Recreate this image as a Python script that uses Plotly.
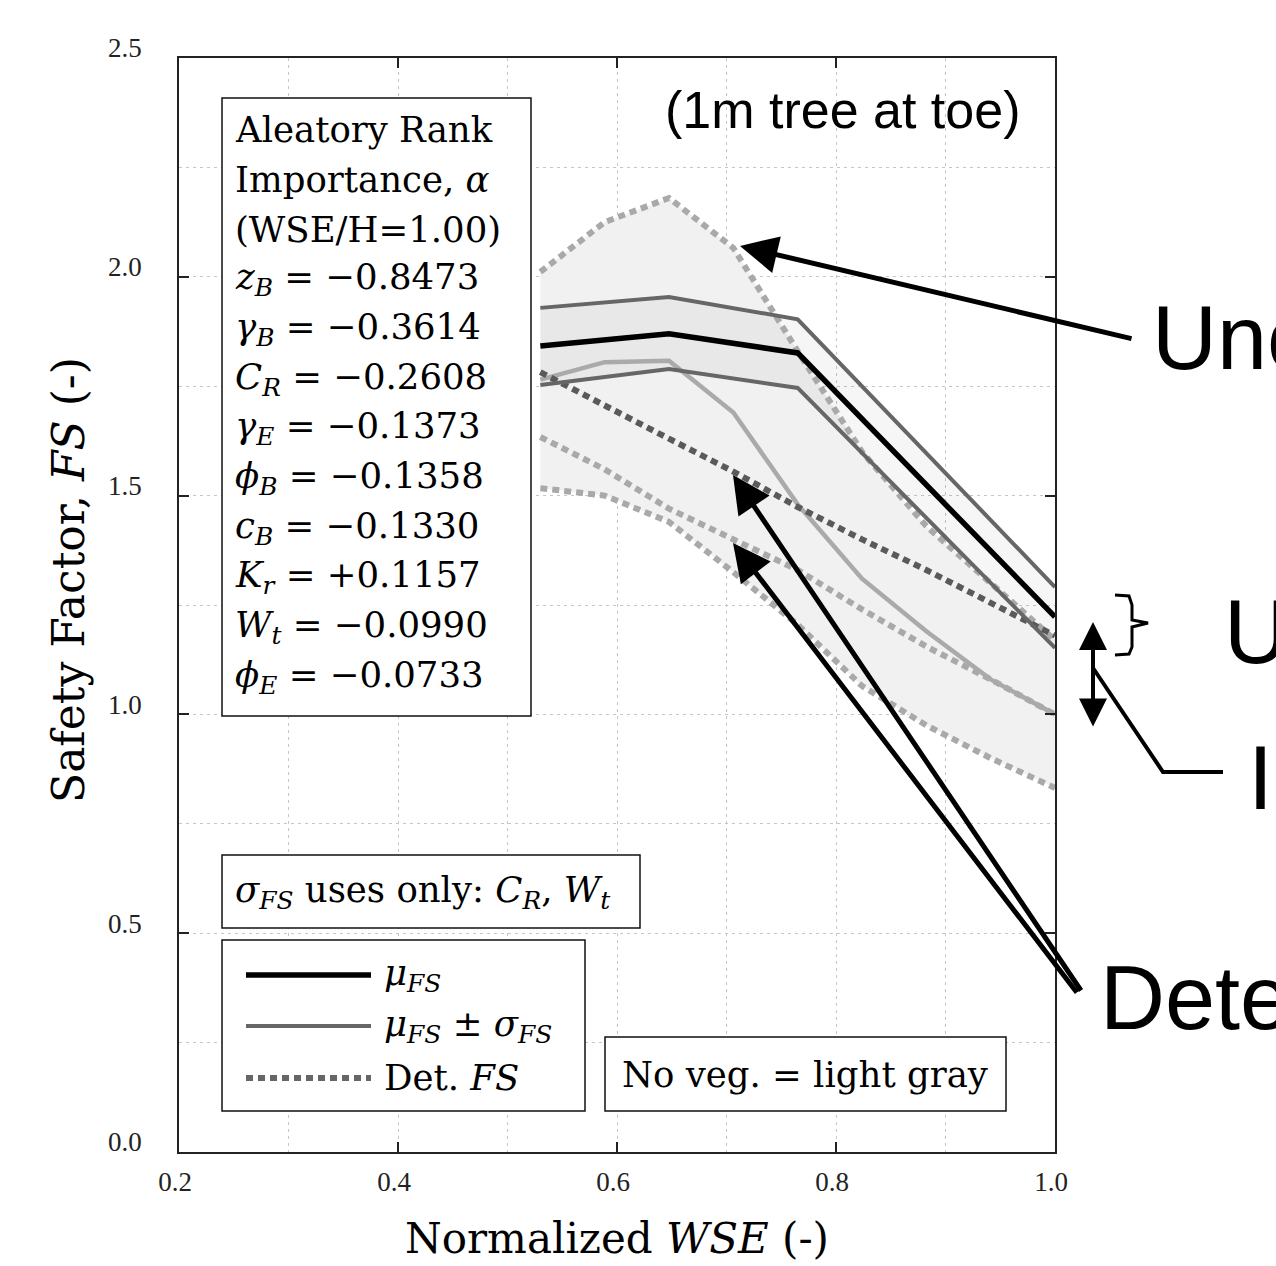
import plotly.graph_objects as go

# ---------------- data ----------------
x_veg = [0.53, 0.6475, 0.765, 0.8825, 1.0]
fs_mean = [1.842, 1.870, 1.826, 1.524, 1.223]
fs_upper = [1.929, 1.954, 1.903, 1.597, 1.291]
fs_lower = [1.753, 1.789, 1.746, 1.449, 1.152]

x_fine = [0.53, 0.58875, 0.6475, 0.70625, 0.765, 0.82375, 0.8825, 0.94125, 1.0]
det_veg = [1.782, 1.705, 1.630, 1.555, 1.474, 1.400, 1.330, 1.255, 1.180]
nov_mean = [1.765, 1.805, 1.808, 1.690, 1.480, 1.310, 1.190, 1.080, 1.000]
nov_upper = [2.011, 2.125, 2.180, 2.066, 1.830, 1.600, 1.430, 1.300, 1.170]
nov_mid = [1.634, 1.560, 1.470, 1.400, 1.330, 1.240, 1.155, 1.080, 1.000]
nov_low = [1.517, 1.500, 1.440, 1.325, 1.205, 1.065, 0.975, 0.900, 0.832]

x_ticks = [0.2, 0.4, 0.6, 0.8, 1.0]
y_ticks = [0.0, 0.5, 1.0, 1.5, 2.0, 2.5]

box_lines = [
    "Aleatory Rank",
    "Importance, <i>α</i>",
    "(WSE/H=1.00)",
    "<i>z</i><sub><i>B</i></sub> = −0.8473",
    "<i>γ</i><sub><i>B</i></sub> = −0.3614",
    "<i>C</i><sub><i>R</i></sub> = −0.2608",
    "<i>γ</i><sub><i>E</i></sub> = −0.1373",
    "<i>ϕ</i><sub><i>B</i></sub> = −0.1358",
    "<i>c</i><sub><i>B</i></sub> = −0.1330",
    "<i>K</i><sub><i>r</i></sub> = +0.1157",
    "<i>W</i><sub><i>t</i></sub> = −0.0990",
    "<i>ϕ</i><sub><i>E</i></sub> = −0.0733",
]

# ---------------- geometry ----------------
W, H = 1276, 1266
L, R, T, B = 179, 221, 58, 114
PW, PH = W - L - R, H - T - B


def px(x):
    return (x - L) / PW


def py(y):
    return (H - B - y) / PH


TICKFONT = "Liberation Serif, Times New Roman, serif"
SERIF = "DejaVu Serif, serif"
SANS = "Liberation Sans, Arial, sans-serif"
DOT = "7px,5px"

fig = go.Figure()

# light gray (no vegetation) envelope
fig.add_trace(go.Scatter(x=x_fine + x_fine[::-1], y=nov_upper + nov_low[::-1],
                         fill="toself", fillcolor="#f1f1f1", line=dict(width=0),
                         mode="lines", hoverinfo="skip"))
# mu +/- sigma band
fig.add_trace(go.Scatter(x=x_veg + x_veg[::-1], y=fs_upper + fs_lower[::-1],
                         fill="toself", fillcolor="rgba(0,0,0,0.035)", line=dict(width=0),
                         mode="lines", hoverinfo="skip"))

for ys in (nov_upper, nov_mid, nov_low):
    fig.add_trace(go.Scatter(x=x_fine, y=ys, mode="lines",
                             line=dict(color="#a9a9a9", width=6, dash=DOT)))
fig.add_trace(go.Scatter(x=x_fine, y=nov_mean, mode="lines",
                         line=dict(color="#aaaaaa", width=4.5)))
fig.add_trace(go.Scatter(x=x_fine, y=det_veg, mode="lines",
                         line=dict(color="#5a5a5a", width=6, dash=DOT)))
for ys in (fs_upper, fs_lower):
    fig.add_trace(go.Scatter(x=x_veg, y=ys, mode="lines",
                             line=dict(color="#666666", width=4)))
fig.add_trace(go.Scatter(x=x_veg, y=fs_mean, mode="lines",
                         line=dict(color="#000000", width=5.5)))

grid = dict(gridcolor="#c6c6c6", gridwidth=1, griddash="3px,4px")
fig.update_xaxes(range=[0.2, 1.0], tickvals=x_ticks, ticktext=[f"{v:.1f}" for v in x_ticks],
                 ticks="inside", ticklen=10, tickcolor="#222", tickwidth=1.5,
                 showline=True, linecolor="#222", linewidth=1.5, mirror="ticks",
                 showgrid=True, zeroline=False, **grid,
                 minor=dict(dtick=0.1, showgrid=True, **grid),
                 tickfont=dict(family=TICKFONT, size=27, color="#222"),
                 ticklabelstandoff=5, ticklabelshift=-4)
fig.update_yaxes(range=[0.0, 2.5], tickvals=y_ticks, ticktext=[f"{v:.1f}" for v in y_ticks],
                 ticks="inside", ticklen=10, tickcolor="#222", tickwidth=1.5,
                 showline=True, linecolor="#222", linewidth=1.5, mirror="ticks",
                 showgrid=True, zeroline=False, **grid,
                 minor=dict(dtick=0.25, showgrid=True, **grid),
                 tickfont=dict(family=TICKFONT, size=27, color="#222"),
                 ticklabelstandoff=30, ticklabelshift=-10)

shapes = []
ann = []


def box(x0, y0, x1, y1):
    shapes.append(dict(type="rect", xref="paper", yref="paper",
                       x0=px(x0), x1=px(x1), y0=py(y1), y1=py(y0),
                       line=dict(color="#111", width=1.5), fillcolor="white", layer="above"))


def text(x, y, s, size=35.5, family=SERIF, xanchor="left", angle=0):
    ann.append(dict(xref="paper", yref="paper", x=px(x), y=py(y), text=s, showarrow=False,
                    xanchor=xanchor, yanchor="middle", textangle=angle,
                    font=dict(family=family, size=size, color="black")))


# Aleatory box
box(222, 98, 531, 716)
for i, s in enumerate(box_lines):
    text(233, 130 + i * 49.7, s)

# sigma box
box(222, 855, 640, 928)
text(233, 892, "<i>σ</i><sub><i>FS</i></sub> uses only: <i>C</i><sub><i>R</i></sub>, <i>W</i><sub><i>t</i></sub>")

# legend box
box(222, 940, 585, 1111)
shapes.append(dict(type="line", xref="paper", yref="paper", x0=px(246), x1=px(371), y0=py(975), y1=py(975),
                   line=dict(color="black", width=5.5)))
shapes.append(dict(type="line", xref="paper", yref="paper", x0=px(246), x1=px(371), y0=py(1026), y1=py(1026),
                   line=dict(color="#666666", width=4)))
shapes.append(dict(type="line", xref="paper", yref="paper", x0=px(246), x1=px(371), y0=py(1078), y1=py(1078),
                   line=dict(color="#666666", width=6, dash=DOT)))
text(382, 975, "<i>μ</i><sub><i>FS</i></sub>")
text(382, 1026, "<i>μ</i><sub><i>FS</i></sub> ± <i>σ</i><sub><i>FS</i></sub>")
text(382, 1077, "Det. <i>FS</i>")

# no veg box
box(605, 1037, 1006, 1111)
text(805, 1074, "No veg. = light gray", xanchor="center")

# title inside
text(842, 110, "(1m tree at toe)", size=52, family=SANS, xanchor="center")

# axis titles
text(617, 1238, "Normalized <i>WSE</i> (-)", size=42, xanchor="center")
ann.append(dict(xref="paper", yref="paper", x=px(68), y=py(580), text="Safety Factor, <i>FS</i> (-)",
                showarrow=False, textangle=-90, xanchor="center", yanchor="middle",
                font=dict(family=SERIF, size=44, color="black")))

# right-side callout texts (clipped by the page edge, as in the reference)
text(1150, 338, "Uncertainty", size=90, family=SANS)
text(1222, 632, "Uncertainty", size=90, family=SANS)
text(1246, 778, "Impact", size=90, family=SANS)
text(1098, 998, "Deterministic", size=90, family=SANS)


def arrow(hx, hy, tx, ty, width=4.5, side="end", size=1.5):
    ann.append(dict(xref="paper", yref="paper", x=px(hx), y=py(hy), ax=tx - hx, ay=ty - hy,
                    showarrow=True, arrowhead=2, arrowsize=size, arrowwidth=width,
                    arrowcolor="black", arrowside=side, text=""))


arrow(740, 246, 1133, 339, width=5)
arrow(733, 475, 1082, 992, width=5)
arrow(733, 543, 1078, 994, width=5)
arrow(1093, 622, 1093, 728, width=4, side="end+start", size=1.4)

# leader line and bracket
shapes.append(dict(type="path", xref="paper", yref="paper",
                   path=f"M {px(1093)},{py(668)} L {px(1163)},{py(772)} L {px(1223)},{py(772)}",
                   line=dict(color="black", width=4)))
shapes.append(dict(type="path", xref="paper", yref="paper",
                   path=(f"M {px(1115)},{py(595)} L {px(1129)},{py(596)} L {px(1132)},{py(605)} "
                         f"L {px(1132)},{py(620)} L {px(1148)},{py(623)} L {px(1132)},{py(627)} "
                         f"L {px(1132)},{py(647)} L {px(1129)},{py(654)} L {px(1115)},{py(655)}"),
                   line=dict(color="black", width=3)))

fig.update_layout(width=W, height=H, margin=dict(l=L, r=R, t=T, b=B, autoexpand=False),
                  plot_bgcolor="white", paper_bgcolor="white", showlegend=False,
                  shapes=shapes, annotations=ann)

fig.write_html("out.html")
